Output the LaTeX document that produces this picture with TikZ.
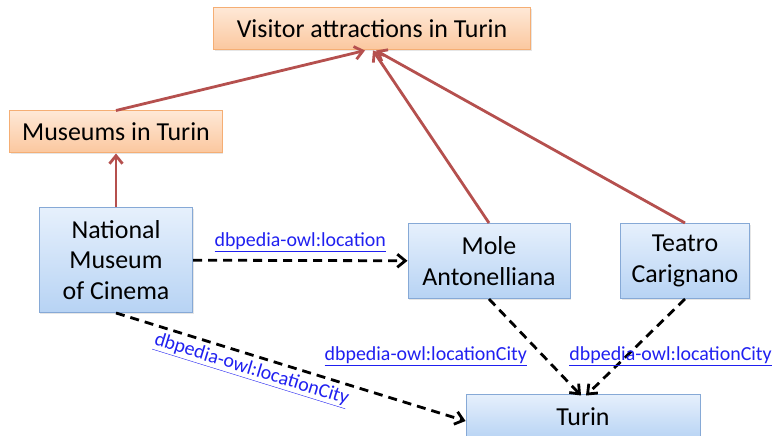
\documentclass[tikz,border=0pt]{standalone}
\usepackage{fontspec}
\setmainfont{Carlito}
\usepackage{tikz}
\usetikzlibrary{positioning}
\usetikzlibrary{arrows.meta}
\usetikzlibrary{shadows}

\definecolor{catline}{HTML}{F5AE74}
\definecolor{cattop}{HTML}{FEE8D6}
\definecolor{catbot}{HTML}{FBC79E}
\definecolor{resline}{HTML}{86A9D6}
\definecolor{restop}{HTML}{E6F0FC}
\definecolor{resbot}{HTML}{B7D3F4}
\definecolor{subarrow}{HTML}{B5504E}
\definecolor{linkblue}{HTML}{2020F0}

\newcommand{\lnk}[1]{\textcolor{linkblue}{\underline{#1}}}

\begin{document}
\begin{tikzpicture}
    [
    x=1bp, y=-1bp,
    font=\fontsize{26}{31}\selectfont,
    box/.style={rectangle,draw,line width=1bp,align=center,inner sep=2bp,
      drop shadow={opacity=0.2,shadow xshift=1bp,shadow yshift=-1.5bp}},
    cat/.style={box,draw=catline,top color=cattop,bottom color=catbot},
    res/.style={box,draw=resline,top color=restop,bottom color=resbot},
    sub/.style={draw=subarrow,line width=2.8bp,-{Straight Barb[length=8bp,width=13bp]}},
    prop/.style={draw=black,line width=2.8bp,dash pattern=on 9bp off 6bp,
      -{Straight Barb[length=8bp,width=13bp]}},
    lab/.style={font=\fontsize{20}{22}\selectfont,inner sep=1bp},
    ]
    \useasboundingbox (0,0) rectangle (776,436);

    \node (visitor) at (372,29) [cat, minimum width=317bp, minimum height=42bp] {Visitor attractions in Turin};
    \node (museums) at (116,132) [cat, minimum width=212bp, minimum height=42bp] {Museums in Turin};
    \node (cinema) at (116,260) [res, minimum width=153bp, minimum height=105bp] {National\\Museum\\of Cinema};
    \node (mole) at (489,261) [res, minimum width=162bp, minimum height=75bp] {Mole\\Antonelliana};
    \node (teatro) at (685,261) [res, minimum width=129bp, minimum height=75bp] {Teatro\\Carignano};
    \node (turin) at (583,417) [res, minimum width=234bp, minimum height=46bp] {Turin};

    \draw [sub] (cinema) to (museums);
    \draw [sub] (museums.north) to ([xshift=-7bp]visitor.south);
    \draw [sub] (mole.north) to ([xshift=1bp]visitor.south);
    \draw [sub] (teatro.north) to ([xshift=4bp]visitor.south);

    \draw [prop] (cinema) to node[lab, above=6bp] {\lnk{dbpedia-owl:location}} (mole);
    \draw [prop] (cinema.south) to node[lab, pos=.4, below=3bp, sloped] {\lnk{dbpedia-owl:locationCity}} ([yshift=-4bp]turin.west);
    \draw [prop] (mole.south) to node[lab, pos=.59, left=14bp] {\lnk{dbpedia-owl:locationCity}} ([xshift=-2bp,yshift=-2bp]turin.north);
    \draw [prop] (teatro.south) to node[lab, pos=.59, xshift=44bp] {\lnk{dbpedia-owl:locationCity}} ([xshift=3bp,yshift=-2bp]turin.north);
  \end{tikzpicture}
\end{document}
